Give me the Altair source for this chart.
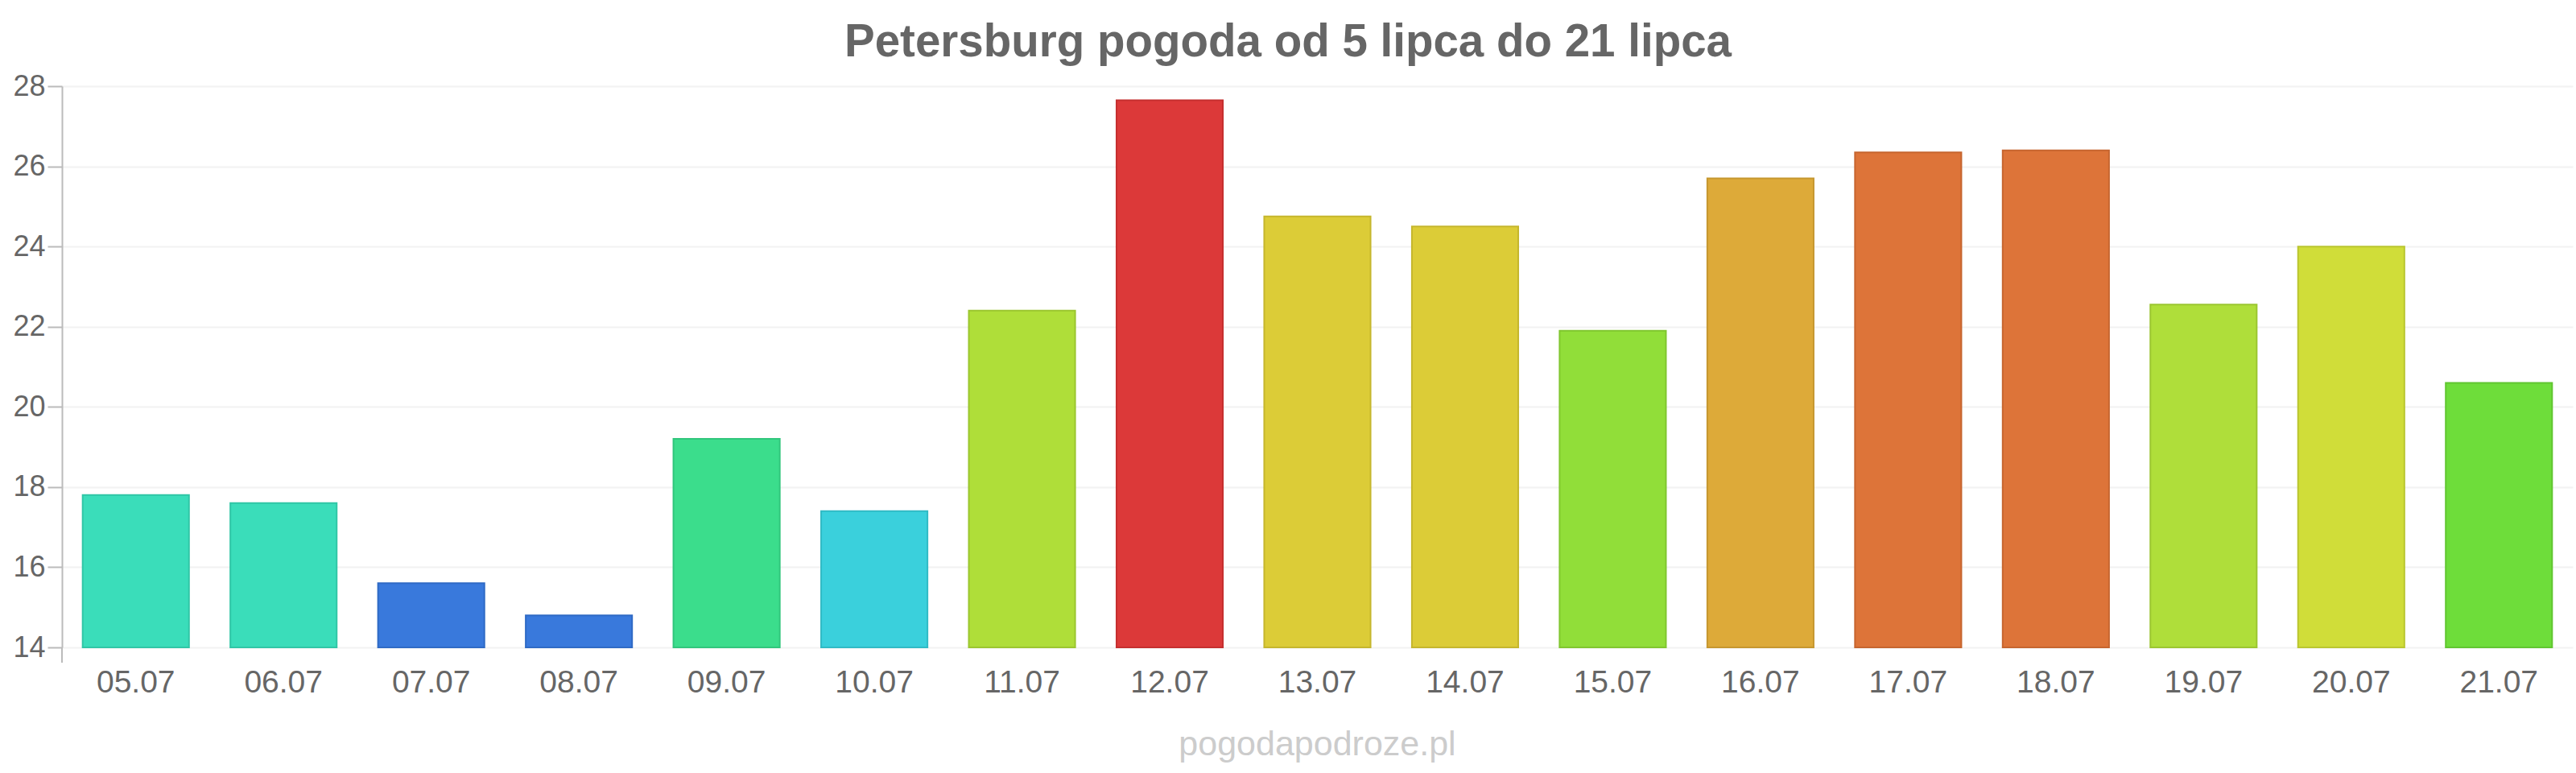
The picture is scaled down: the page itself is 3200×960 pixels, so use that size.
import altair as alt
import pandas as pd

dates = ["05.07", "06.07", "07.07", "08.07", "09.07", "10.07", "11.07", "12.07", "13.07",
         "14.07", "15.07", "16.07", "17.07", "18.07", "19.07", "20.07", "21.07"]
temps = [17.8, 17.6, 15.6, 14.8, 19.2, 17.4, 22.4, 27.65, 24.75,
         24.5, 21.9, 25.7, 26.35, 26.4, 22.55, 24.0, 20.6]
colors = ["#36dcb9", "#36dcb9", "#3576db", "#3576db", "#37dc8a", "#36cfdb", "#addd35", "#db3535", "#dbcb33",
          "#dbcb33", "#8fdd35", "#dca835", "#dc7135", "#dc7135", "#addd36", "#cfdc35", "#6bdc36"]

title_text = ["Petersburg pogoda od 5 lipca do 21 lipca"]
watermark = ["pogodapodroze.pl"]


def darken(hexcol, f=0.9):
    r, g, b = (int(hexcol[i:i + 2], 16) for i in (1, 3, 5))
    return "#%02x%02x%02x" % (int(r * f), int(g * f), int(b * f))


strokes = [darken(c) for c in colors]

df = pd.DataFrame({"date": dates, "temp": temps, "col": colors})

W, H = 3119, 697
FONT = "Liberation Sans"

x = alt.X("date:N", sort=dates, title=None,
          scale=alt.Scale(paddingInner=0.28, paddingOuter=0.14),
          axis=alt.Axis(labelAngle=0, labelFontSize=39, labelColor="#666666", labelFont=FONT,
                        labelPadding=24, ticks=False, domain=False, grid=False))
y = alt.Y("temp:Q", title=None,
          scale=alt.Scale(domain=[14, 28], nice=False, zero=False),
          axis=alt.Axis(values=list(range(14, 29, 2)), labelFontSize=36, labelColor="#666666",
                        labelFont=FONT, tickSize=18, tickColor="#bbbbbb", tickWidth=2,
                        labelPadding=3, domainColor="#bbbbbb", domainWidth=2,
                        gridColor="#f2f2f2", gridWidth=2))

bars = alt.Chart(df).mark_bar(strokeWidth=2, fillOpacity=0.98).encode(
    x=x, y=y, y2=alt.datum(14),
    color=alt.Color("date:N", scale=alt.Scale(domain=dates, range=colors), legend=None),
    stroke=alt.Stroke("date:N", scale=alt.Scale(domain=dates, range=strokes), legend=None),
)

axis_ext = alt.Chart(pd.DataFrame({"a": [0]})).mark_rule(color="#bbbbbb", strokeWidth=2).encode(
    x=alt.value(0), y=alt.value(H), y2=alt.value(H + 19))

title = alt.Chart(pd.DataFrame({"t": title_text})).mark_text(
    font=FONT, fontSize=56.5, fontWeight="bold", color="#666666", align="center", baseline="middle"
).encode(text="t:N", x=alt.value(1600 - 77), y=alt.value(53 - 107))

wm = alt.Chart(pd.DataFrame({"t": watermark})).mark_text(
    font=FONT, fontSize=43, color="#cccccc", align="center", baseline="middle"
).encode(text="t:N", x=alt.value(W / 2), y=alt.value(925 - 107))

chart = alt.layer(bars, axis_ext, title, wm).properties(
    width=W, height=H,
    autosize=alt.AutoSizeParams(type="none"),
    padding={"left": 77, "top": 107, "right": 4, "bottom": 156},
    background="white",
).configure_view(stroke=None)

chart.save("out.html", embed_options={"renderer": "svg", "actions": False})
